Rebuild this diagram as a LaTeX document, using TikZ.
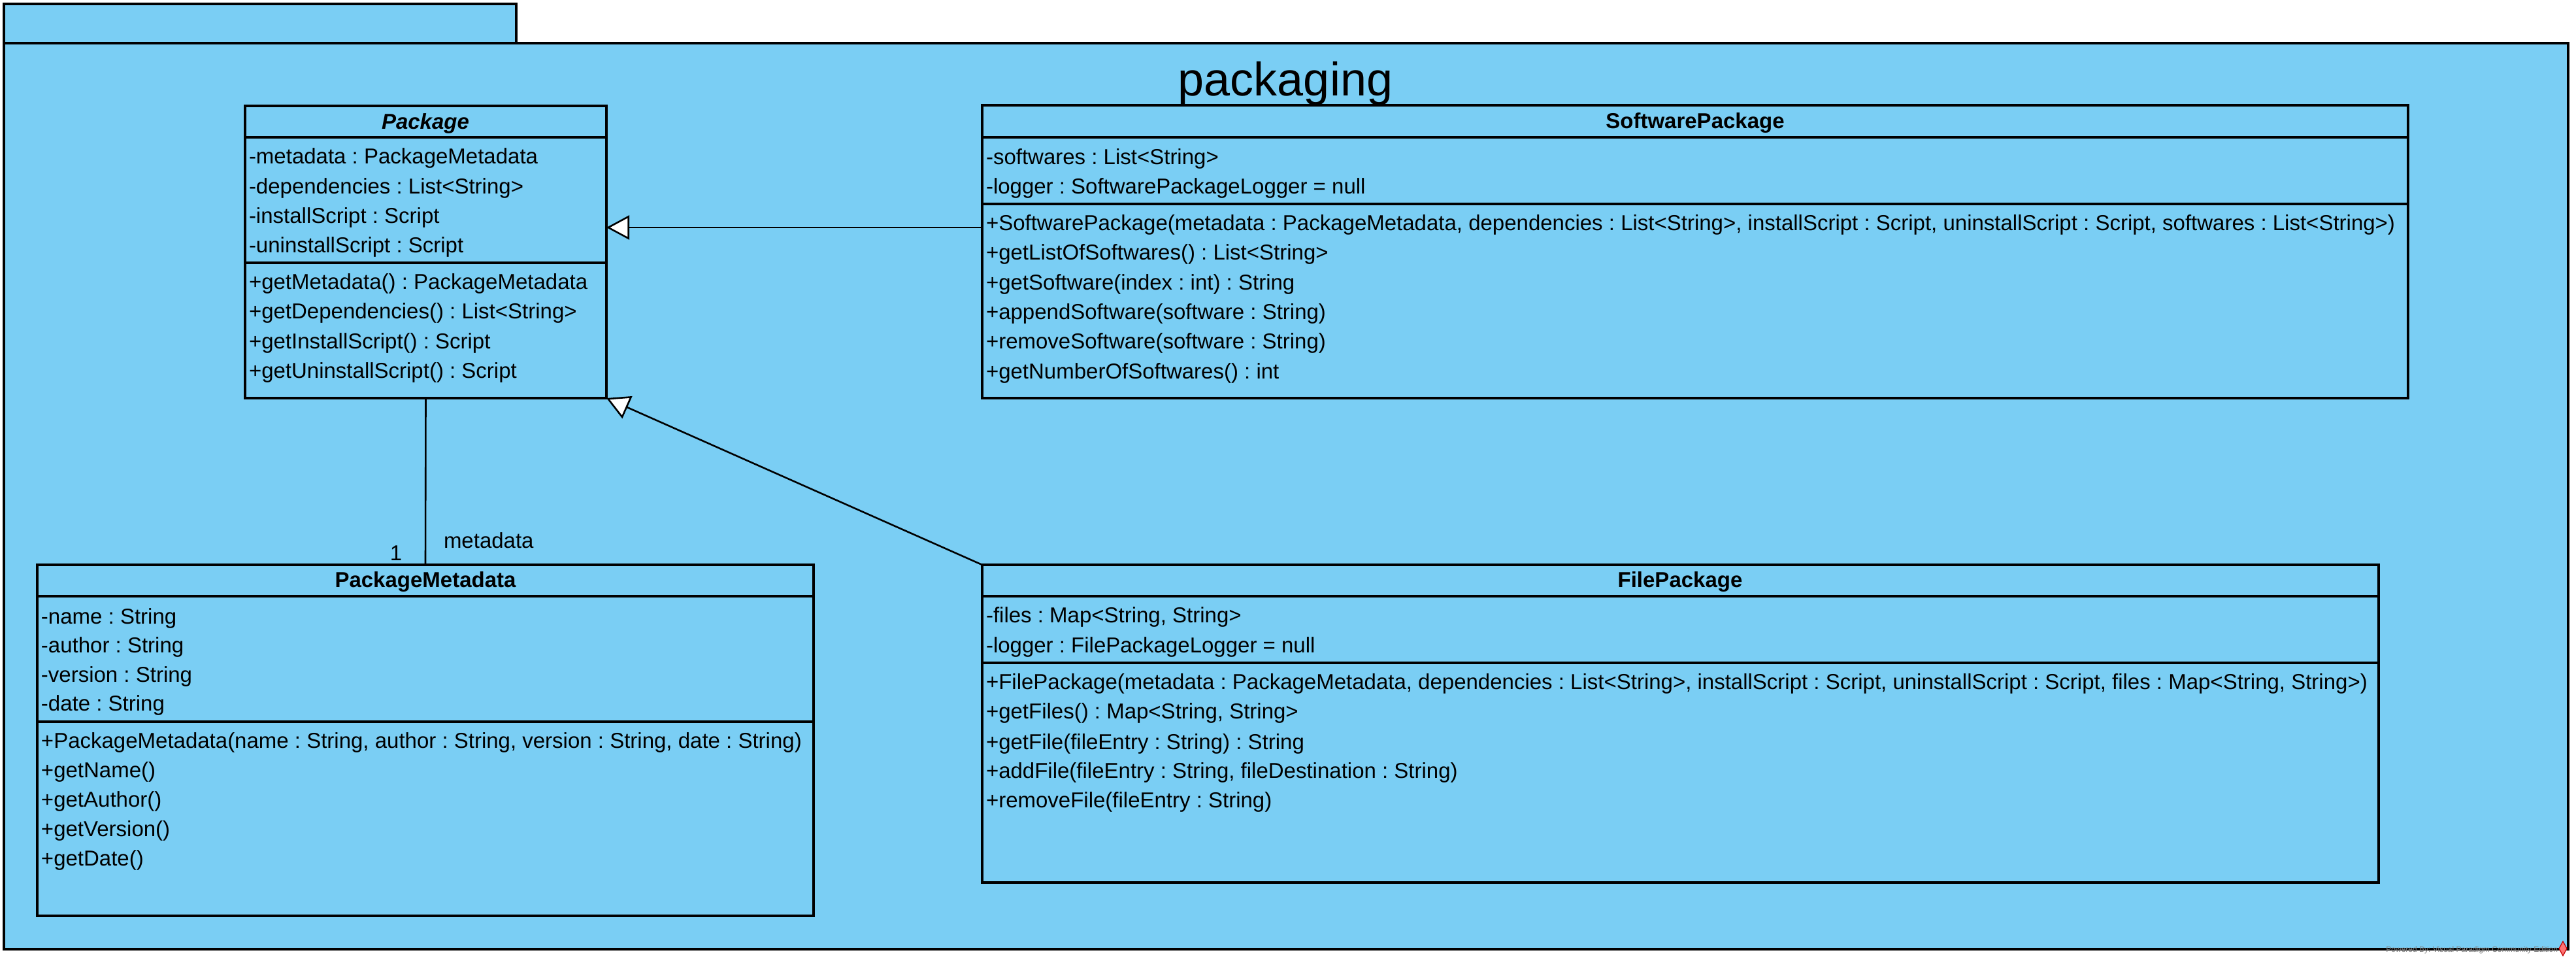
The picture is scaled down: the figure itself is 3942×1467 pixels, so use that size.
\documentclass[tikz,border=0pt]{standalone}
\usepackage{fontspec}
\setmainfont{Liberation Sans}
\usetikzlibrary{arrows.meta}
\definecolor{pkgblue}{RGB}{122,206,244}
\newcommand\umlbox[5]{\node[cls, minimum width={(#4-#2)*0.25pt}, minimum height={(#5-#3)*0.25pt}] (#1) at (#2,#3) {};}
\newcommand\clsfont{\fontsize{8.25pt}{10pt}\selectfont}
\frenchspacing
\begin{document}
\frenchspacing
\begin{tikzpicture}[x=0.25pt,y=-0.25pt,
  every node/.style={inner sep=0pt, outer sep=0pt},
  cls/.style={draw=black, line width=0.8pt, fill=pkgblue, rectangle, anchor=north west},
  txt/.style={anchor=base west, font=\clsfont},
  ttl/.style={anchor=base, font=\clsfont\bfseries},
  gen/.style={line width=0.65pt, -{Triangle[fill=white, length=8.75pt, width=9.25pt]}},
  assoc/.style={line width=0.65pt},
  sepline/.style={line width=0.8pt}]

\useasboundingbox (0,0) rectangle (3942,1467);
\fill[white] (0,0) rectangle (3942,1467);

% package frame
\node[draw, line width=1pt, fill=pkgblue, anchor=north west, minimum width={784*0.25pt}, minimum height={60*0.25pt}] (tab) at (6,6) {};
\node[draw, line width=1pt, fill=pkgblue, anchor=north west, minimum width={3924*0.25pt}, minimum height={1386*0.25pt}] (frame) at (6,66) {};
\node[anchor=base, font=\fontsize{18pt}{20pt}\selectfont] (ptitle) at (1967,146) {packaging};

% Package
\umlbox{pkg}{375}{162}{928}{609}
\draw[sepline] (pkg.west |- 0,210) -- (pkg.east |- 0,210);
\draw[sepline] (pkg.west |- 0,402) -- (pkg.east |- 0,402);
\node[ttl, font=\clsfont\bfseries\itshape] (pkgt) at (651,197) {Package};
\node[txt] (pkga1) at (381,250) {-metadata : PackageMetadata};
\node[txt] (pkga2) at (381,296) {-dependencies : List<String>};
\node[txt] (pkga3) at (381,341) {-installScript : Script};
\node[txt] (pkga4) at (381,386) {-uninstallScript : Script};
\node[txt] (pkgm1) at (381,442) {+getMetadata() : PackageMetadata};
\node[txt] (pkgm2) at (381,487) {+getDependencies() : List<String>};
\node[txt] (pkgm3) at (381,533) {+getInstallScript() : Script};
\node[txt] (pkgm4) at (381,578) {+getUninstallScript() : Script};

% SoftwarePackage
\umlbox{spk}{1503}{161}{3685}{609}
\draw[sepline] (spk.west |- 0,210) -- (spk.east |- 0,210);
\draw[sepline] (spk.west |- 0,312) -- (spk.east |- 0,312);
\node[ttl] (spkt) at (2594,196) {SoftwarePackage};
\node[txt] (spka1) at (1509,251) {-softwares : List<String>};
\node[txt] (spka2) at (1509,296) {-logger : SoftwarePackageLogger = null};
\node[txt] (spkm1) at (1509,352) {+SoftwarePackage(metadata : PackageMetadata, dependencies : List<String>, installScript : Script, uninstallScript : Script, softwares : List<String>)};
\node[txt] (spkm2) at (1509,397) {+getListOfSoftwares() : List<String>};
\node[txt] (spkm3) at (1509,443) {+getSoftware(index : int) : String};
\node[txt] (spkm4) at (1509,488) {+appendSoftware(software : String)};
\node[txt] (spkm5) at (1509,533) {+removeSoftware(software : String)};
\node[txt] (spkm6) at (1509,579) {+getNumberOfSoftwares() : int};

% PackageMetadata
\umlbox{pmd}{57}{864}{1245}{1401}
\draw[sepline] (pmd.west |- 0,912) -- (pmd.east |- 0,912);
\draw[sepline] (pmd.west |- 0,1104) -- (pmd.east |- 0,1104);
\node[ttl] (pmdt) at (651,898) {PackageMetadata};
\node[txt] (pmda1) at (63,954) {-name : String};
\node[txt] (pmda2) at (63,998) {-author : String};
\node[txt] (pmda3) at (63,1043) {-version : String};
\node[txt] (pmda4) at (63,1087) {-date : String};
\node[txt] (pmdm1) at (63,1144) {+PackageMetadata(name : String, author : String, version : String, date : String)};
\node[txt] (pmdm2) at (63,1189) {+getName()};
\node[txt] (pmdm3) at (63,1234) {+getAuthor()};
\node[txt] (pmdm4) at (63,1279) {+getVersion()};
\node[txt] (pmdm5) at (63,1324) {+getDate()};

% FilePackage
\umlbox{fpk}{1503}{864}{3640}{1350}
\draw[sepline] (fpk.west |- 0,912) -- (fpk.east |- 0,912);
\draw[sepline] (fpk.west |- 0,1014) -- (fpk.east |- 0,1014);
\node[ttl] (fpkt) at (2571,898) {FilePackage};
\node[txt] (fpka1) at (1509,952) {-files : Map<String, String>};
\node[txt] (fpka2) at (1509,998) {-logger : FilePackageLogger = null};
\node[txt] (fpkm1) at (1509,1054) {+FilePackage(metadata : PackageMetadata, dependencies : List<String>, installScript : Script, uninstallScript : Script, files : Map<String, String>)};
\node[txt] (fpkm2) at (1509,1099) {+getFiles() : Map<String, String>};
\node[txt] (fpkm3) at (1509,1146) {+getFile(fileEntry : String) : String};
\node[txt] (fpkm4) at (1509,1190) {+addFile(fileEntry : String, fileDestination : String)};
\node[txt] (fpkm5) at (1509,1235) {+removeFile(fileEntry : String)};

% connectors
\draw[gen] (spk.west |- 0,348) -- (pkg.east |- 0,348);
\draw[gen] (fpk.north west) -- (pkg.south east);
\draw[assoc] (pkg.south) -- (pmd.north);
\node[anchor=base, font=\clsfont] (mult) at (606,857) {1};
\node[anchor=base west, font=\clsfont] (role) at (679,838) {metadata};

% watermark
\node[anchor=base east, font=\fontsize{3pt}{3pt}\selectfont, text=gray] (wm) at (3914,1456) {Powered By: Visual Paradigm Community Edition};
\draw[red!75!black, line width=0.3pt, fill=red!55] (3922,1440) -- (3928,1451) -- (3922,1462) -- (3916,1451) -- cycle;
\end{tikzpicture}
\end{document}
